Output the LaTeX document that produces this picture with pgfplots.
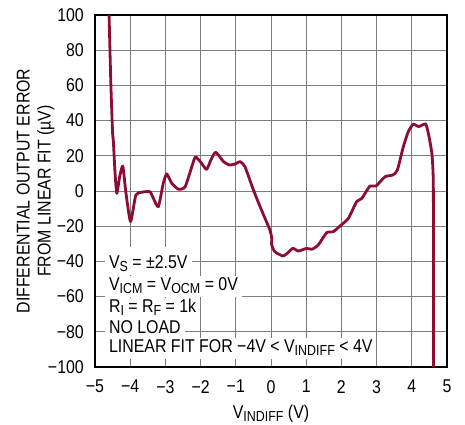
\documentclass[border=0pt]{standalone}
\usepackage{fontspec}
\setmainfont{Liberation Sans}[FakeStretch=0.86]
\usepackage{pgfplots}
\pgfplotsset{compat=1.18}
\definecolor{curve}{RGB}{140,12,50}
\definecolor{gridgray}{RGB}{125,125,125}
\newcommand{\sub}[1]{\raisebox{-3bp}{\fontsize{14.5bp}{14.5bp}\selectfont #1}}
\begin{document}
\fontsize{18.5bp}{21bp}\selectfont
\begin{tikzpicture}
\useasboundingbox (-95bp,-58bp) rectangle (370bp,367bp);
\begin{axis}[
    scale only axis,
    width=352bp, height=352bp,
    xmin=-5, xmax=5,
    ymin=-100, ymax=100,
    xtick={-5,-4,-3,-2,-1,0,1,2,3,4,5},
    xticklabels={−5,−4,−3,−2,−1,0,1,2,3,4,5},
    ytick={-100,-80,-60,-40,-20,0,20,40,60,80,100},
    yticklabels={−100,−80,−60,−40,−20,0,20,40,60,80,100},
    grid=major,
    grid style={gridgray, line width=0.9bp},
    axis line style={black, line width=1.3bp},
    major tick length=5bp,
    tick style={gridgray, line width=0.9bp},
    tick align=inside,
    yticklabel style={anchor=east, inner sep=0pt, xshift=-11bp},
    xticklabel style={anchor=north, inner sep=0pt, yshift=-13bp},
    xlabel={V\sub{INDIFF} (V)},
    xlabel style={at={(axis description cs:0.5,-0.147)}, anchor=base, inner sep=0pt},
    ylabel={DIFFERENTIAL OUTPUT ERROR\\FROM LINEAR FIT (µV)},
    ylabel style={at={(axis description cs:-0.169,0.5)}, anchor=center, align=center, inner sep=0pt},
]

\addplot[curve, line width=2.8bp, line join=round, smooth, tension=0.35] coordinates {
(-4.60,100) (-4.55,61) (-4.50,33) (-4.48,29) (-4.43,10) (-4.38,-1.3)
(-4.30,8) (-4.21,14.2) (-4.12,-1.3) (-3.99,-17.4) (-3.84,-2.3) (-3.67,-0.7)
(-3.44,-0.4) (-3.34,-4.2) (-3.20,-8.9) (-3.06,4.4) (-2.96,9.7) (-2.82,4.4)
(-2.63,1.0) (-2.44,2.4) (-2.25,13.8) (-2.15,19.3) (-2.00,16.5) (-1.83,12.3)
(-1.70,18) (-1.57,22.0) (-1.35,16.7) (-1.18,14.8) (-1.00,15.5) (-0.88,16.7)
(-0.74,13.8) (-0.50,0.6) (-0.31,-8.9) (-0.03,-22.2) (0.02,-26.9) (0.02,-30.7)
(0.11,-34.5) (0.33,-36.9) (0.44,-35.8) (0.62,-32.6) (0.78,-34.1) (1.01,-32.6)
(1.16,-33.1) (1.34,-30.7) (1.58,-23.7) (1.77,-23.1) (1.96,-19.9) (2.20,-15.5)
(2.43,-6.1) (2.58,-4.2) (2.81,2.8) (2.98,2.8) (3.24,8.1) (3.46,9.1)
(3.59,11.9) (3.76,25.2) (3.90,33.7) (4.04,37.9) (4.20,36.6) (4.39,38.1)
(4.47,32.8) (4.57,21.4) (4.61,6.3) (4.615,-30) (4.615,-100)
};

% white background behind the conditions, one strip per line
\tikzset{strip/.style={anchor=base west, fill=white, inner xsep=4bp, inner ysep=0pt, text height=15bp, text depth=6bp},
         info/.style={anchor=base west, inner xsep=4bp, inner ysep=0pt}}
\node[strip, text height=22bp] at (axis cs:-4.72,-44.3) {\phantom{V\sub{S} = ±2.5V}};
\node[strip] at (axis cs:-4.72,-56.8) {\phantom{V\sub{ICM} = V\sub{OCM} = 0V}};
\node[strip] at (axis cs:-4.72,-69.3) {\phantom{R\sub{I} = R\sub{F} = 1k}};
\node[strip] at (axis cs:-4.72,-80.9) {\phantom{NO LOAD}};
\node[strip] at (axis cs:-4.72,-92.0) {\phantom{LINEAR FIT FOR −4V < V\sub{INDIFF} < 4V}};

\node[info] at (axis cs:-4.72,-44.3) {V\sub{S} = ±2.5V};
\node[info] at (axis cs:-4.72,-56.8) {V\sub{ICM} = V\sub{OCM} = 0V};
\node[info] at (axis cs:-4.72,-69.3) {R\sub{I} = R\sub{F} = 1k};
\node[info] at (axis cs:-4.72,-80.9) {NO LOAD};
\node[info] at (axis cs:-4.72,-92.0) {LINEAR FIT FOR −4V < V\sub{INDIFF} < 4V};
\end{axis}
\end{tikzpicture}
\end{document}
